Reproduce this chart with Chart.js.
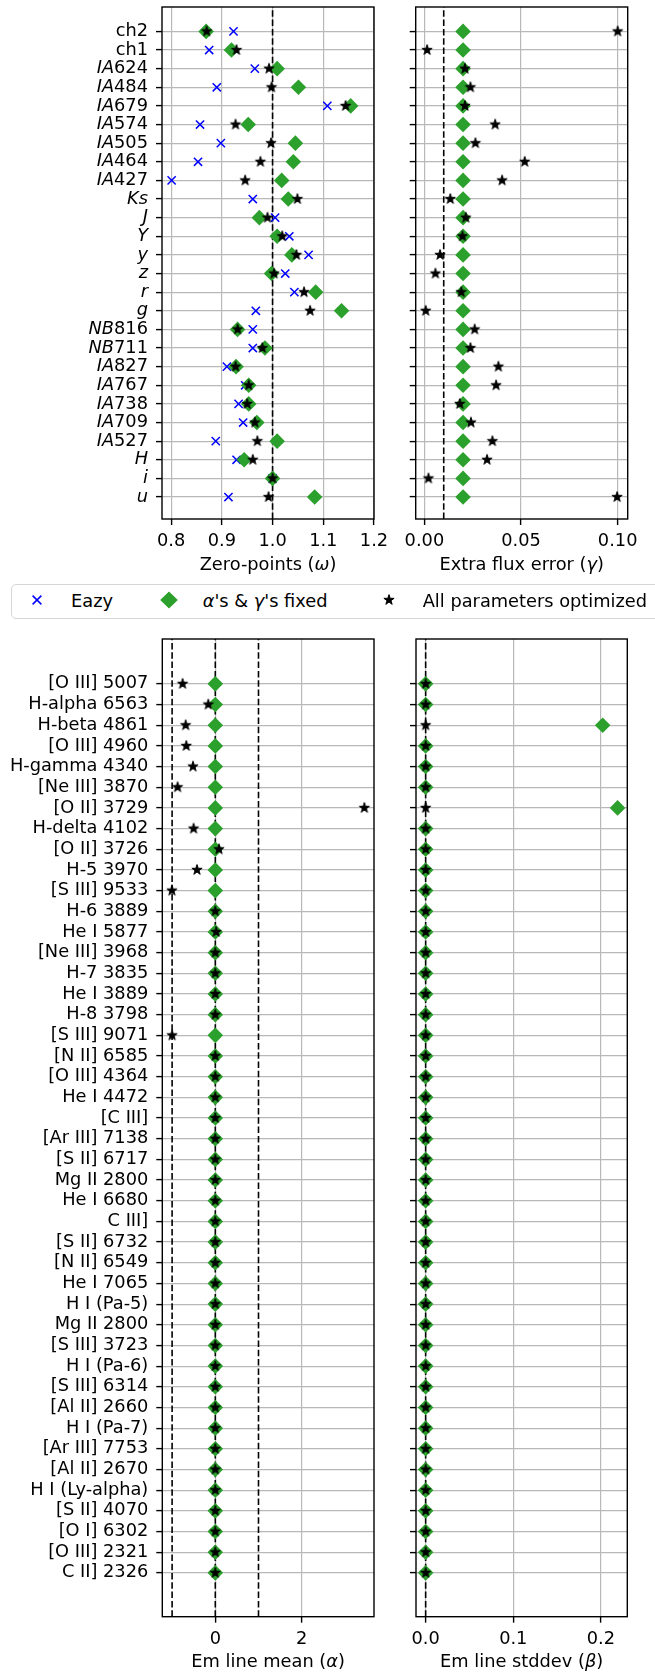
<!DOCTYPE html>
<html>
<head>
<meta charset="utf-8">
<script src="https://cdn.jsdelivr.net/npm/chart.js@4.4.0/dist/chart.umd.min.js"></script>
<style>
html, body { margin: 0; padding: 0; background: #fff; }
body { width: 655px; height: 1674px; position: relative; overflow: hidden; font-family: "DejaVu Sans", sans-serif; }
canvas { position: absolute; }
#legend { position: absolute; left: 10.5px; top: 583.5px; width: 660px; height: 35px; box-sizing: border-box;
  border: 1px solid #d6d6d6; border-radius: 5px; background: #fff; }
#legend span { position: absolute; top: 0; line-height: 32px; font-size: 17.8px; color: #000; white-space: nowrap; }
#legend canvas { position: absolute; }
</style>
</head>
<body>
<canvas id="zp" width="400" height="580" style="left:0;top:0"></canvas>
<canvas id="err" width="275" height="580" style="left:380px;top:0"></canvas>
<canvas id="mean" width="380" height="1044" style="left:0;top:630px"></canvas>
<canvas id="std" width="275" height="1044" style="left:380px;top:630px"></canvas>
<div id="legend">
  <canvas id="lgEazy" width="14" height="14" style="left:18.5px;top:8.5px"></canvas>
  <span style="left:59.5px">Eazy</span>
  <canvas id="lgFixed" width="20" height="20" style="left:147.8px;top:5.5px"></canvas>
  <span style="left:191.2px"><i>α</i>'s &amp; <i>γ</i>'s fixed</span>
  <canvas id="lgOpt" width="16" height="16" style="left:369.2px;top:7.5px"></canvas>
  <span style="left:411.2px">All parameters optimized</span>
</div>
<script>
// filters (top panels), top to bottom
const filterLabels = ['ch2', 'ch1', 'IA624', 'IA484', 'IA679', 'IA574', 'IA505', 'IA464', 'IA427', 'Ks',
  'J', 'Y', 'y', 'z', 'r', 'g', 'NB816', 'NB711', 'IA827', 'IA767', 'IA738', 'IA709', 'IA527', 'H', 'i', 'u'];
const eazyZp = [0.923, 0.875, 0.965, 0.890, 1.108, 0.857, 0.898, 0.853, 0.801, 0.961,
  1.005, 1.033, 1.071, 1.025, 1.043, 0.967, 0.961, 0.961, 0.910, 0.946, 0.933, 0.942, 0.888, 0.929, 1.000, 0.913];
const fixedZp = [0.869, 0.919, 1.009, 1.051, 1.154, 0.952, 1.045, 1.041, 1.018, 1.031,
  0.974, 1.009, 1.038, 0.998, 1.085, 1.136, 0.931, 0.985, 0.928, 0.953, 0.953, 0.969, 1.009, 0.944, 1.000, 1.083];
const optZp = [0.870, 0.929, 0.993, 0.998, 1.144, 0.927, 0.997, 0.976, 0.946, 1.049,
  0.990, 1.019, 1.047, 1.003, 1.062, 1.074, 0.931, 0.980, 0.927, 0.953, 0.950, 0.965, 0.970, 0.961, 1.000, 0.992];
const fixedErr = [0.02, 0.02, 0.02, 0.02, 0.02, 0.02, 0.02, 0.02, 0.02, 0.02,
  0.02, 0.02, 0.02, 0.02, 0.02, 0.02, 0.02, 0.02, 0.02, 0.02, 0.02, 0.02, 0.02, 0.02, 0.02, 0.02];
const optErr = [0.100, 0.0014, 0.021, 0.0238, 0.021, 0.0366, 0.0264, 0.0519, 0.0402, 0.0134,
  0.0214, 0.0197, 0.0081, 0.0057, 0.0191, 0.0007, 0.026, 0.0238, 0.0383, 0.0371, 0.0183, 0.0241, 0.0352, 0.0324, 0.0021, 0.0997];

// emission lines (bottom panels), top to bottom
const lineLabels = ['[O III] 5007', 'H-alpha 6563', 'H-beta 4861', '[O III] 4960', 'H-gamma 4340',
  '[Ne III] 3870', '[O II] 3729', 'H-delta 4102', '[O II] 3726', 'H-5 3970', '[S III] 9533', 'H-6 3889',
  'He I 5877', '[Ne III] 3968', 'H-7 3835', 'He I 3889', 'H-8 3798', '[S III] 9071', '[N II] 6585',
  '[O III] 4364', 'He I 4472', '[C III]', '[Ar III] 7138', '[S II] 6717', 'Mg II 2800', 'He I 6680',
  'C III]', '[S II] 6732', '[N II] 6549', 'He I 7065', 'H I (Pa-5)', 'Mg II 2800', '[S III] 3723',
  'H I (Pa-6)', '[S III] 6314', '[Al II] 2660', 'H I (Pa-7)', '[Ar III] 7753', '[Al II] 2670',
  'H I (Ly-alpha)', '[S II] 4070', '[O I] 6302', '[O III] 2321', 'C II] 2326'];
const fixedMean = [0, 0, 0, 0, 0, 0, 0, 0, 0, 0, 0, 0, 0, 0, 0, 0, 0, 0, 0, 0, 0, 0,
  0, 0, 0, 0, 0, 0, 0, 0, 0, 0, 0, 0, 0, 0, 0, 0, 0, 0, 0, 0, 0, 0];
const optMean = [-0.757, -0.162, -0.687, -0.672, -0.517, -0.873, 3.45, -0.502, 0.085, -0.425, -1.004, 0,
  0.02, 0, 0, 0, 0, -1.0, 0, 0, 0, 0, 0, 0, 0, 0, 0, 0, 0, 0, 0, 0, 0, 0, 0, 0, 0, 0, 0, 0, 0, 0, 0, 0];
const fixedStd = [0, 0, 0.202, 0, 0, 0, 0.219, 0, 0, 0, 0, 0, 0, 0, 0, 0, 0, 0, 0, 0, 0, 0,
  0, 0, 0, 0, 0, 0, 0, 0, 0, 0, 0, 0, 0, 0, 0, 0, 0, 0, 0, 0, 0, 0];
const optStd = [0, 0, 0, 0, 0, 0, 0, 0, 0, 0, 0, 0, 0, 0, 0, 0, 0, 0, 0, 0, 0, 0,
  0, 0, 0, 0, 0, 0, 0, 0, 0, 0, 0, 0, 0, 0, 0, 0, 0, 0, 0, 0, 0, 0];

// ticks and reference lines
const zpTicks = [0.8, 0.9, 1.0, 1.1, 1.2];
const zpTickLabels = ['0.8', '0.9', '1.0', '1.1', '1.2'];
const errTicks = [0, 0.05, 0.10];
const errTickLabels = ['0.00', '0.05', '0.10'];
const meanTicks = [0, 2];
const meanTickLabels = ['0', '2'];
const stdTicks = [0, 0.1, 0.2];
const stdTickLabels = ['0.0', '0.1', '0.2'];
const zpRef = [1.0];
const errRef = [0.01];
const meanRef = [-1, 0, 1];
const stdRef = [0];

const FONT = '"DejaVu Sans", sans-serif';
const FS = 17.8;
const GRID = '#b8b8b8';
const BLUE = '#0000ff';
const GREEN = '#2ca02c';

function makeStar(R) {
    const c = document.createElement('canvas');
    const s = Math.ceil(2 * R + 3);
    c.width = s; c.height = s;
    const g = c.getContext('2d');
    g.translate(s / 2, s / 2);
    g.beginPath();
    for (let k = 0; k < 10; k++) {
        const r = k % 2 ? R * 0.382 : R;
        const a = -Math.PI / 2 + k * Math.PI / 5;
        g.lineTo(r * Math.cos(a), r * Math.sin(a));
    }
    g.closePath();
    g.fillStyle = '#000';
    g.fill();
    g.lineWidth = 1;
    g.strokeStyle = '#000';
    g.stroke();
    return c;
}
const starImg = makeStar(5.4);

// filter names: letters in italic, wavelength digits upright (IRAC channels upright)
function partsOf(label) {
    if (label.startsWith('ch')) return [[label, false]];
    const m = label.match(/^([A-Za-z]+)(\d*)$/);
    return m[2] ? [[m[1], true], [m[2], false]] : [[m[1], true]];
}

function drawParts(ctx, parts, x, y, align) {
    ctx.save();
    ctx.textBaseline = 'middle';
    ctx.textAlign = 'left';
    ctx.fillStyle = '#000';
    const fonts = parts.map(p => (p[1] ? 'italic ' : '') + FS + 'px ' + FONT);
    const widths = parts.map((p, k) => { ctx.font = fonts[k]; return ctx.measureText(p[0]).width; });
    const total = widths.reduce((a, b) => a + b, 0);
    let cx = align === 'right' ? x - total : align === 'center' ? x - total / 2 : x;
    parts.forEach((p, k) => { ctx.font = fonts[k]; ctx.fillText(p[0], cx, y); cx += widths[k]; });
    ctx.restore();
}

function decorPlugin(titleParts, titleY, rowLabels) {
    return {
        id: 'decor',
        afterDraw(chart) {
            const { ctx, chartArea: a } = chart;
            ctx.save();
            ctx.strokeStyle = '#000';
            ctx.lineWidth = 1.4;
            ctx.strokeRect(a.left, a.top, a.right - a.left, a.bottom - a.top);
            ctx.restore();
            drawParts(ctx, titleParts, (a.left + a.right) / 2, titleY, 'center');
            if (rowLabels) {
                const ys = chart.scales.y;
                rowLabels.forEach((lab, i) => drawParts(ctx, partsOf(lab), a.left - 14, ys.getPixelForValue(i), 'right'));
            }
        }
    };
}

function gridOpts() {
    return { color: GRID, lineWidth: 1.2, tickColor: '#000', tickLength: 6, tickWidth: 1.4 };
}

function xAxis(range, ticks, labels, height) {
    return {
        type: 'linear', min: range[0], max: range[1],
        afterBuildTicks: s => { s.ticks = ticks.map(v => ({ value: v })); },
        afterFit: s => { s.height = height; s.paddingLeft = 0; s.paddingRight = 0; },
        grid: gridOpts(),
        border: { display: false },
        ticks: { color: '#000', font: { family: FONT, size: FS }, padding: 6, maxRotation: 0, autoSkip: false,
            callback: (v, i) => labels[i] }
    };
}

function yAxis(range, labels, width, showLabels) {
    return {
        type: 'linear', reverse: true, min: range[0], max: range[1],
        afterBuildTicks: s => { s.ticks = labels.map((_, i) => ({ value: i })); },
        afterFit: s => { s.width = width; s.paddingTop = 0; s.paddingBottom = 0; },
        grid: gridOpts(),
        border: { display: false },
        ticks: { display: showLabels, color: '#000', font: { family: FONT, size: FS }, padding: 8, autoSkip: false,
            callback: (v, i) => labels[i] }
    };
}

function points(values) {
    return values.map((v, i) => ({ x: v, y: i }));
}

function eazySet(values) {
    return { data: points(values), order: 3, pointStyle: 'crossRot', pointRadius: 5.8, pointHoverRadius: 5.8,
        pointBorderColor: BLUE, pointBackgroundColor: BLUE, pointBorderWidth: 1.5 };
}
function fixedSet(values) {
    return { data: points(values), order: 2, pointStyle: 'rectRot', pointRadius: 7.8, pointHoverRadius: 7.8,
        pointBorderColor: GREEN, pointBackgroundColor: GREEN, pointBorderWidth: 0 };
}
function optSet(values) {
    return { data: points(values), order: 1, pointStyle: starImg, pointRadius: 6, pointHoverRadius: 6 };
}
function refSets(xs, yRange) {
    return xs.map(v => ({ data: [{ x: v, y: yRange[1] }, { x: v, y: yRange[0] }], order: 10, showLine: true,
        borderColor: '#000', borderWidth: 1.6, borderDash: [6.5, 2.8], pointRadius: 0, pointHoverRadius: 0 }));
}

function makePanel(id, datasets, xScale, yScale, padding, plugin) {
    return new Chart(document.getElementById(id), {
        type: 'scatter',
        data: { datasets },
        options: {
            responsive: false, animation: false, devicePixelRatio: 1, events: [],
            layout: { autoPadding: false, padding },
            plugins: { legend: { display: false }, tooltip: { enabled: false } },
            scales: { x: xScale, y: yScale }
        },
        plugins: [plugin]
    });
}

const TOP_Y = [-1.31, 26.18];
const BOT_Y = [-2.17, 45.12];

makePanel('zp',
    [eazySet(eazyZp), fixedSet(fixedZp), optSet(optZp), ...refSets(zpRef, TOP_Y)],
    xAxis([0.782, 1.2], zpTicks, zpTickLabels, 61),
    yAxis(TOP_Y, filterLabels, 162, false),
    { left: 0, top: 7, right: 26, bottom: 0 },
    decorPlugin([['Zero-points (', false], ['ω', true], [')', false]], 565, filterLabels));

makePanel('err',
    [fixedSet(fixedErr), optSet(optErr), ...refSets(errRef, TOP_Y)],
    xAxis([-0.0045, 0.1052], errTicks, errTickLabels, 61),
    yAxis(TOP_Y, filterLabels, 35.7, false),
    { left: 0, top: 7, right: 27.3, bottom: 0 },
    decorPlugin([['Extra flux error (', false], ['γ', true], [')', false]], 565, null));

makePanel('mean',
    [fixedSet(fixedMean), optSet(optMean), ...refSets(meanRef, BOT_Y)],
    xAxis([-1.227, 3.674], meanTicks, meanTickLabels, 57.3),
    yAxis(BOT_Y, lineLabels, 162.3, true),
    { left: 0, top: 9, right: 6, bottom: 0 },
    decorPlugin([['Em line mean (', false], ['α', true], [')', false]], 1032.7, null));

makePanel('std',
    [fixedSet(fixedStd), optSet(optStd), ...refSets(stdRef, BOT_Y)],
    xAxis([-0.011, 0.2301], stdTicks, stdTickLabels, 57.3),
    yAxis(BOT_Y, lineLabels, 36, false),
    { left: 0, top: 9, right: 27.7, bottom: 0 },
    decorPlugin([['Em line stddev (', false], ['β', true], [')', false]], 1032.7, null));

// legend markers
(function drawLegendMarkers() {
    let g = document.getElementById('lgEazy').getContext('2d');
    g.strokeStyle = BLUE; g.lineWidth = 1.5;
    g.beginPath(); g.moveTo(2.6, 2.6); g.lineTo(11.4, 11.4); g.moveTo(11.4, 2.6); g.lineTo(2.6, 11.4); g.stroke();
    g = document.getElementById('lgFixed').getContext('2d');
    g.fillStyle = GREEN;
    g.beginPath(); g.moveTo(10, 1.5); g.lineTo(18.8, 10); g.lineTo(10, 18.5); g.lineTo(1.2, 10); g.closePath(); g.fill();
    g = document.getElementById('lgOpt').getContext('2d');
    g.drawImage(starImg, (16 - starImg.width) / 2, (16 - starImg.height) / 2);
})();
</script>
</body>
</html>
